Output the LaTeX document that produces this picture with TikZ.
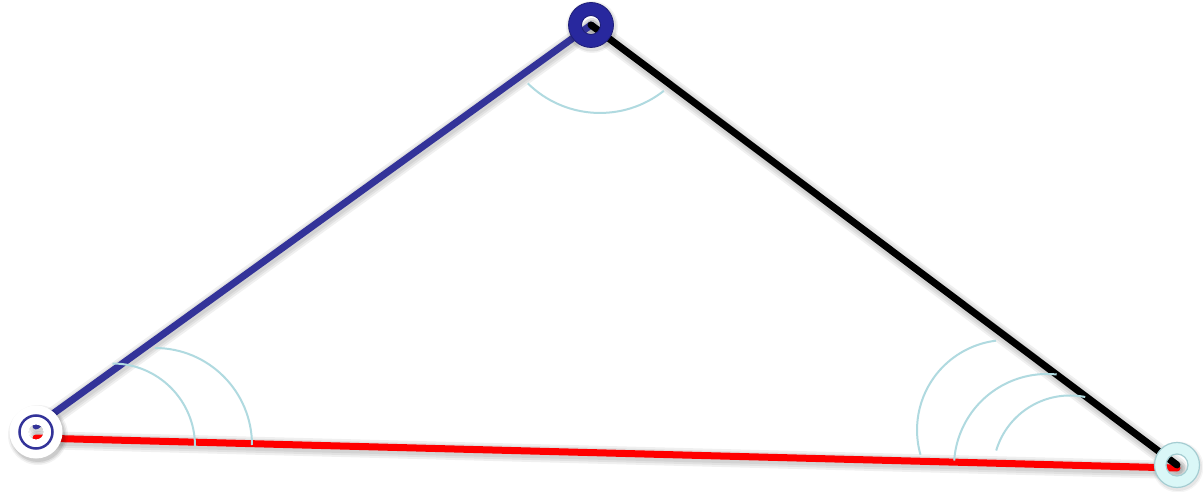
\documentclass[tikz,border=0pt]{standalone}
\usetikzlibrary{calc}
\definecolor{edgeblue}{RGB}{51,51,153}
\definecolor{ringblue}{RGB}{40,40,158}
\definecolor{ringblueedge}{RGB}{30,30,120}
\definecolor{arccol}{RGB}{176,218,224}
\definecolor{cfill}{RGB}{218,247,247}
\definecolor{cedge}{RGB}{165,205,210}
\begin{document}
\begin{tikzpicture}[x=1pt,y=1pt,
  edge/.style={line width=7, line cap=round},
  lineshadow/.style={black, opacity=0.06, line cap=round},
  anglearc/.style={draw=arccol, line width=2}
]
\useasboundingbox (0,0) rectangle (1203,491);
\fill[white] (0,0) rectangle (1203,491);
% vertices
\coordinate (A) at (36,59);
\coordinate (B) at (591,466);
\coordinate (C) at (1177,26);
% edge ends near vertices
\coordinate (Ab) at (36,65);
\coordinate (Ar) at (36,53);
\coordinate (Cr) at (1177,23);
% soft shadows of the edges
\begin{scope}[transform canvas={shift={(1pt,-2pt)}}]
\foreach \w in {18,14,10}{
  \draw[lineshadow, line width=\w] (Ab) -- (B);
  \draw[lineshadow, line width=\w] (Ar) -- (Cr);
  \draw[lineshadow, line width=\w] (B) -- (C);
}
\end{scope}
% edges
\draw[edge, edgeblue] (Ab) -- (B);
\draw[edge, red] (Ar) -- (Cr);
\draw[edge, black] (B) -- (C);
% angle arcs
\draw[anglearc] (112.5,127.5) arc[start angle=90, end angle=0, radius=82.5];
\draw[anglearc] (155,143) arc[start angle=90, end angle=0, radius=97];
\draw[anglearc] (527.7,407.7) arc[start angle=-134.6, end angle=-51.7, radius=103];
\draw[anglearc] (920.5,36.2) arc[start angle=-164, end angle=-263, radius=90];
\draw[anglearc] (954.2,30.5) arc[start angle=-184, end angle=-276, radius=93];
\draw[anglearc] (996.2,40.5) arc[start angle=-196.6, end angle=-281.4, radius=77];
% vertex A: white ring with shadow and blue circle
\foreach \r/\o in {30/0.05,28.5/0.07,27/0.09}{
  \fill[black, opacity=\o, even odd rule] ($(A)+(2,-3)$) circle (\r) (A) circle (7.5);
}
\fill[white, even odd rule] (A) circle (26.5) (A) circle (7.5);
\draw[edgeblue, line width=2.5] (A) circle (16.5);
% vertex B: dark blue ring
\foreach \r/\o in {26/0.05,24.5/0.08}{
  \fill[black, opacity=\o, even odd rule] ($(B)+(1,-2)$) circle (\r) (B) circle (9.5);
}
\fill[ringblue, even odd rule] (B) circle (22.5) (B) circle (9.5);
\draw[ringblueedge, line width=0.8] (B) circle (22.5) (B) circle (9.5);
% vertex C: light cyan ring
\foreach \r/\o in {25.5/0.04,24/0.06}{
  \fill[black, opacity=\o, even odd rule] ($(C)+(1,-2)$) circle (\r) (C) circle (11);
}
\fill[cfill, even odd rule] (C) circle (22.5) (C) circle (11);
\draw[cedge, line width=1.2] (C) circle (22.5) (C) circle (11);
\end{tikzpicture}
\end{document}
